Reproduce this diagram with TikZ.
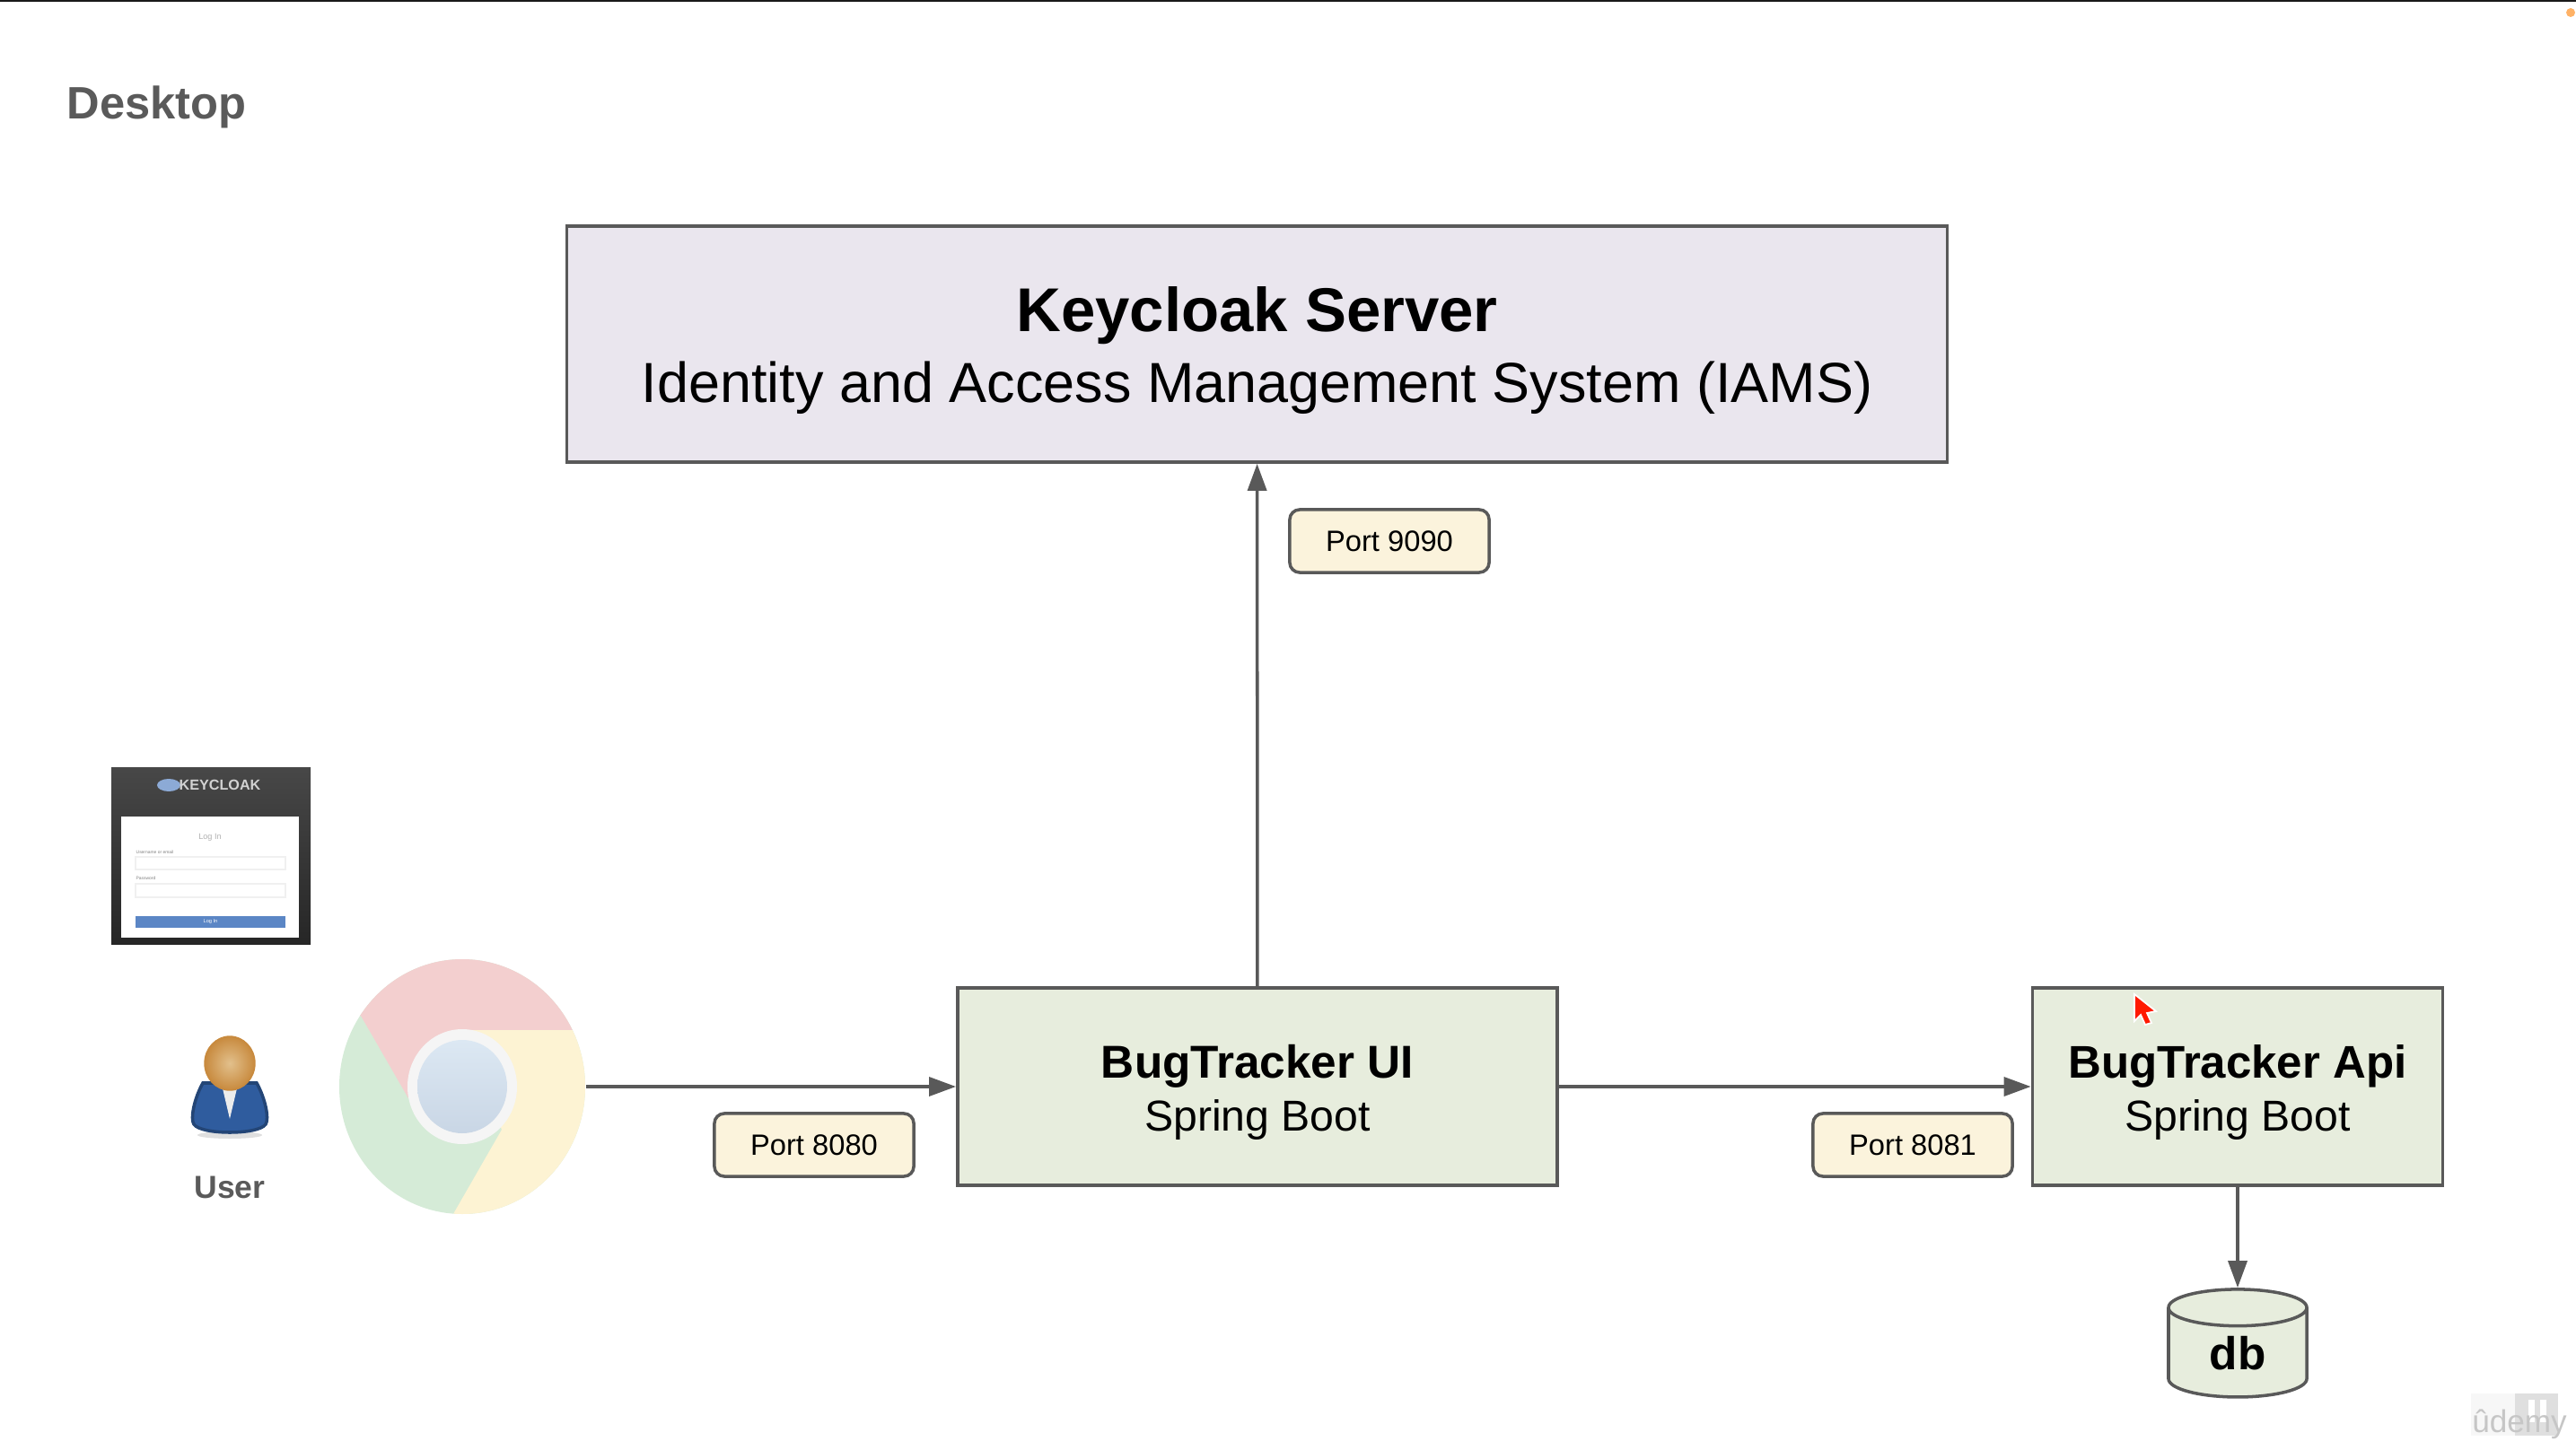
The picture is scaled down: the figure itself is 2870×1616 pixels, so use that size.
\documentclass[tikz,border=0pt]{standalone}
\usepackage{fontspec}
\setmainfont{Liberation Sans}
\usetikzlibrary{arrows.meta,shapes.geometric}
\definecolor{linegray}{HTML}{595959}
\definecolor{textgray}{HTML}{5A5A5A}
\definecolor{lilacfill}{HTML}{EAE6EE}
\definecolor{greenfill}{HTML}{E7EDDD}
\definecolor{creamfill}{HTML}{FBF3DC}
\definecolor{chromered}{HTML}{F3CFCF}
\definecolor{chromeyellow}{HTML}{FDF3D3}
\definecolor{chromegreen}{HTML}{D5EBD7}
\definecolor{chrometop}{HTML}{DCE8F3}
\definecolor{chromebottom}{HTML}{C9D6E5}
\definecolor{suitblue}{HTML}{2F5C9E}
\definecolor{headlight}{HTML}{E2C08C}
\definecolor{headdark}{HTML}{C88A3E}
\definecolor{btnblue}{HTML}{5B86C5}
\tikzset{
    mainbox/.style={draw=linegray, line width=1pt, inner sep=0pt, align=center, text=black},
    portbox/.style={draw=linegray, line width=1pt, fill=creamfill, rounded corners=0.11cm, inner sep=0pt,
            minimum width=2.22cm, minimum height=0.7cm, font=\fontsize{9.3}{11}\selectfont},
    conn/.style={draw=linegray, line width=1pt, -{Triangle[length=0.3cm, width=0.21cm]}},
    graylabel/.style={text=textgray, inner sep=0pt, font=\bfseries\fontsize{14.4}{17}\selectfont},
}
\begin{document}
\begin{tikzpicture}[x=0.01cm, y=-0.01cm]
        \useasboundingbox (0, 0) rectangle (2870, 1616);
        %top edge of the screen
        \fill[black!90] (0, 0) rectangle (2870, 2);
        \fill[orange!60!white] (2864, 14) circle [radius=5];
        %title
        \node[graylabel, anchor=base west] (desktop) at (74, 133) {Desktop};
        %draw server box
        \node[mainbox, fill=lilacfill, minimum width=15.37cm, minimum height=2.63cm,
            font=\fontsize{17.9}{22.5}\selectfont] (keycloak) at (1400.5, 383.5)
            {\rule{0pt}{18.2pt}{\bfseries\fontsize{19.6}{22.5}\selectfont Keycloak Server}\\Identity and Access Management System (IAMS)};
        %draw application boxes
        \node[mainbox, fill=greenfill, minimum width=6.68cm, minimum height=2.2cm,
            font=\fontsize{13.7}{17}\selectfont] (ui) at (1401, 1211)
            {\rule{0pt}{14.2pt}{\bfseries\fontsize{14.6}{17}\selectfont BugTracker UI}\\Spring Boot};
        \node[mainbox, fill=greenfill, minimum width=4.57cm, minimum height=2.2cm,
            font=\fontsize{13.7}{17}\selectfont] (api) at (2493, 1211)
            {\rule{0pt}{14.2pt}{\bfseries\fontsize{14.5}{17}\selectfont BugTracker Api}\\Spring Boot};
        %draw database
        \node[draw=linegray, fill=greenfill, line width=1pt, cylinder, shape border rotate=90, aspect=0.65,
            minimum width=1.54cm, minimum height=1.2cm, inner sep=0pt,
            font=\bfseries\fontsize{14.6}{17}\selectfont] (db) at (2493, 1508) {db};
        %draw browser
        \node[ellipse, minimum width=2.74cm, minimum height=2.84cm, inner sep=0pt] (chrome) at (515, 1211) {};
        \begin{scope}
            \clip (515, 1211) ellipse [x radius=137, y radius=142];
            \fill[chromegreen] (378, 1069) rectangle (652, 1353);
            \fill[chromered] (402, 1132) -- (455, 1224) -- (515, 1148) -- (652, 1148) -- (652, 1069) -- (378, 1069) -- (378, 1132) -- cycle;
            \fill[chromeyellow] (515, 1148) -- (652, 1148) -- (652, 1353) -- (505, 1353) -- (559, 1259) -- cycle;
            \fill[white!96!black] (515, 1211) ellipse [x radius=61, y radius=64];
            \shade[top color=chrometop, bottom color=chromebottom] (515, 1211) ellipse [x radius=50, y radius=52];
        \end{scope}
        %draw user icon
        \begin{scope}[shift={(256, 1185)}]
            \fill[gray!25] (0, 80) ellipse [x radius=36, y radius=4];
            \draw[fill=suitblue, draw=suitblue!75!black, line width=1pt]
                (-30, 22) .. controls (-40, 40) and (-44, 62) .. (-40, 68)
                .. controls (-32, 80) and (32, 80) .. (40, 68)
                .. controls (44, 62) and (40, 40) .. (30, 22) -- cycle;
            \fill[white!85!gray] (-8, 28) -- (0, 62) -- (8, 28) -- cycle;
            \draw[inner color=headlight, outer color=headdark, draw=headdark] (0, 0) ellipse [x radius=28, y radius=30];
        \end{scope}
        \node[graylabel, font=\bfseries\fontsize{10.1}{12}\selectfont] (user) at (256, 1323) {User};
        %draw login thumbnail
        \shade[top color=black!72, bottom color=black!85] (124, 855) rectangle (346, 1052);
        \fill[white] (135, 910) rectangle (333, 1045);
        \fill[btnblue!70!white] (188, 875) ellipse [x radius=13, y radius=7];
        \node[text=white!65!gray, inner sep=0pt, font=\bfseries\fontsize{4.6}{5}\selectfont] (brand) at (245, 875) {KEYCLOAK};
        \node[text=gray!60, inner sep=0pt, font=\fontsize{2.6}{3}\selectfont] (login) at (234, 933) {Log In};
        \node[text=gray, inner sep=0pt, anchor=west, font=\fontsize{1.4}{2}\selectfont] (username) at (151, 950) {Username or email};
        \node[text=gray, inner sep=0pt, anchor=west, font=\fontsize{1.4}{2}\selectfont] (password) at (151, 979) {Password};
        \draw[gray!12, line width=0.3pt] (151, 955) rectangle (318, 969);
        \draw[gray!12, line width=0.3pt] (151, 985) rectangle (318, 1000);
        \node[fill=btnblue, text=white, inner sep=0pt, minimum width=1.67cm, minimum height=0.13cm,
            font=\fontsize{1.6}{2}\selectfont] (loginbtn) at (234.5, 1027) {Log In};
        %draw connectors
        \draw[conn] (chrome) -- (ui);
        \draw[conn] (ui) -- (api);
        \draw[conn] (ui) -- (keycloak);
        \draw[conn] (api) -- (db.top);
        %label connectors
        \node[portbox] (port9090) at (1548, 603) {Port 9090};
        \node[portbox] (port8080) at (907, 1276) {Port 8080};
        \node[portbox] (port8081) at (2131, 1276) {Port 8081};
        %draw mouse pointer
        \draw[white, fill=red!80!orange, line width=0.5pt] (2378, 1108) -- (2402, 1127) -- (2392, 1129) -- (2397, 1140) -- (2390, 1142) -- (2385, 1131) -- (2378, 1138) -- cycle;
        %draw watermark
        \fill[gray!6] (2753, 1553) rectangle (2802, 1600);
        \fill[gray!25] (2802, 1553) rectangle (2850, 1600);
        \fill[white] (2817, 1560) rectangle (2824, 1585);
        \fill[white] (2830, 1560) rectangle (2837, 1585);
        \node[text=gray!45, inner sep=0pt, font=\fontsize{10}{12}\selectfont] (brandmark) at (2807, 1587) {ûdemy};
    \end{tikzpicture}
\end{document}
